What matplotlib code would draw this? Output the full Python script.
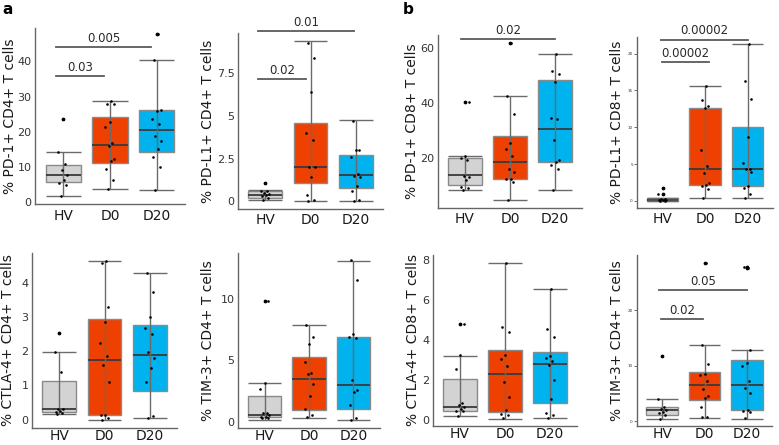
import matplotlib
matplotlib.use("Agg")
import matplotlib.pyplot as plt
import numpy as np

plt.rcParams['font.family'] = ['DejaVu Sans']

groups = ["HV", "D0", "D20"]
colors = ["#d3d3d3", "#ee4000", "#00b2ee"]

# ---- panel 1: PD-1+ CD4+ ----
p1_label = "% PD-1+ CD4+ T cells"
p1_stats = [(1.7, 5.7, 7.8, 10.6, 14.4), (3.9, 11.2, 16.2, 24.2, 28.9), (3.6, 14.4, 20.5, 26.1, 40.4)]
p1_fliers = [[23.7], [], [47.8]]
p1_hv = [1.7, 4.8, 5.5, 6.4, 7.8, 9.3, 11.0, 14.4, 23.7]
p1_d0 = [3.8, 6.4, 9.4, 11.8, 12.2, 16.1, 16.7, 21.3, 22.8, 28.0, 28.0, 28.9]
p1_d20 = [3.6, 10.0, 12.8, 15.1, 17.4, 18.8, 22.2, 23.7, 25.9, 26.3, 40.4, 47.8]
p1_ylim = (-0.5, 49.5)
p1_ticks = [0, 10, 20, 30, 40]
p1_ticklabels = ["0", "10", "20", "30", "40"]
p1_brackets = [(0.84, 1.88, 35.8, "0.03"), (0.84, 2.88, 44.2, "0.005")]

# ---- panel 2: PD-L1+ CD4+ ----
p2_label = "% PD-L1+ CD4+ T cells"
p2_stats = [(0.1, 0.22, 0.38, 0.6, 0.65), (0.02, 1.1, 2.0, 4.6, 9.4), (0.02, 0.76, 1.54, 2.7, 4.77)]
p2_fliers = [[1.1], [], []]
p2_hv = [0.1, 0.2, 0.3, 0.35, 0.4, 0.5, 0.6, 0.62, 1.1]
p2_d0 = [0.02, 0.1, 0.35, 1.4, 2.0, 2.0, 3.6, 4.0, 6.4, 8.4, 9.3]
p2_d20 = [0.02, 0.05, 0.6, 0.9, 1.4, 1.5, 1.6, 2.6, 3.0, 3.0, 4.7]
p2_ylim = (-0.45, 9.86)
p2_ticks = [0, 2.5, 5, 7.5]
p2_ticklabels = ["0", "2.5", "5", "7.5"]
p2_brackets = [(0.85, 1.91, 7.14, "0.02"), (0.85, 2.97, 9.96, "0.01")]

# ---- panel 3: PD-1+ CD8+ ----
p3_label = "% PD-1+ CD8+ T cells"
p3_stats = [(8.1, 10.1, 13.5, 19.9, 20.8), (4.4, 12.3, 18.5, 28.1, 42.7), (8.1, 18.4, 30.6, 48.6, 58.0)]
p3_fliers = [[40.3], [61.8], []]
p3_hv = [8.1, 8.8, 9.3, 11.9, 13.0, 13.3, 19.1, 19.9, 20.6, 40.3]
p3_d0 = [4.4, 11.0, 12.3, 12.3, 14.6, 16.0, 20.7, 23.3, 25.3, 36.0, 42.7, 61.8]
p3_d20 = [8.1, 15.7, 17.3, 18.5, 19.0, 26.5, 34.3, 34.6, 47.6, 50.7, 51.6, 57.8]
p3_ylim = (1.6, 64.9)
p3_ticks = [20, 40, 60]
p3_ticklabels = ["20", "40", "60"]
p3_brackets = [(0.91, 3.0, 63.3, "0.02")]

# ---- panel 4: PD-L1+ CD8+ ----
p4_label = "% PD-L1+ CD8+ T cells"
p4_stats = [(0.0, 0.05, 0.2, 0.35, 0.45), (0.36, 2.16, 4.3, 12.66, 15.6), (0.36, 2.0, 4.4, 10.0, 21.3)]
p4_fliers = [[0.95, 1.76], [], []]
p4_hv = [0.0, 0.05, 0.1, 0.15, 0.2, 0.3, 0.3, 0.95, 1.76]
p4_d0 = [0.4, 1.6, 2.1, 2.2, 2.5, 3.8, 4.8, 6.9, 12.6, 12.9, 13.7, 15.6]
p4_d20 = [0.4, 1.0, 1.8, 2.0, 3.9, 4.3, 4.4, 5.1, 8.7, 13.9, 16.3, 21.3]
p4_ylim = (-0.95, 22.25)
p4_ticks = [0, 5, 10, 15, 20]
p4_ticklabels = ["0", "5", "10", "15", "20"]
p4_brackets = [(0.98, 2.1, 18.8, "0.00002"), (0.96, 3.0, 21.9, "0.00002")]

# ---- panel 5: CTLA-4+ CD4+ ----
p5_label = "% CTLA-4+ CD4+ T cells"
p5_stats = [(0.18, 0.24, 0.3, 1.12, 1.98), (0.0, 0.14, 1.74, 2.94, 4.62), (0.05, 0.84, 1.89, 2.75, 4.29)]
p5_fliers = [[2.53], [], []]
p5_hv = [0.18, 0.2, 0.22, 0.27, 0.3, 0.3, 1.4, 1.98, 2.53]
p5_d0 = [0.0, 0.05, 0.14, 0.14, 1.1, 1.6, 1.87, 2.25, 2.85, 3.28, 4.57, 4.62]
p5_d20 = [0.05, 0.1, 1.1, 1.5, 1.8, 1.97, 2.5, 2.68, 3.0, 3.73, 4.29]
p5_ylim = (-0.24, 4.86)
p5_ticks = [0, 1, 2, 3, 4]
p5_ticklabels = ["0", "1", "2", "3", "4"]
p5_brackets = []

# ---- panel 6: TIM-3+ CD4+ ----
p6_label = "% TIM-3+ CD4+ T cells"
p6_stats = [(0.2, 0.4, 0.6, 2.14, 3.18), (0.37, 0.96, 3.5, 5.24, 7.9), (0.19, 1.1, 3.0, 6.93, 13.05)]
p6_fliers = [[9.8], [], []]
p6_hv = [0.3, 0.35, 0.4, 0.45, 0.6, 0.7, 0.7, 2.7, 3.2, 9.8]
p6_d0 = [0.4, 0.55, 1.1, 2.1, 3.1, 3.9, 4.0, 4.9, 6.3, 6.9, 7.9]
p6_d20 = [0.2, 0.3, 1.35, 2.4, 2.6, 3.4, 6.8, 6.9, 7.1, 11.5, 13.1]
p6_ylim = (-0.48, 13.7)
p6_ticks = [0, 5, 10]
p6_ticklabels = ["0", "5", "10"]
p6_brackets = []

# ---- panel 7: CTLA-4+ CD8+ ----
p7_label = "% CTLA-4+ CD8+ T cells"
p7_stats = [(0.18, 0.43, 0.65, 2.07, 3.22), (0.07, 0.42, 2.29, 3.49, 7.87), (0.12, 0.86, 2.82, 3.4, 6.54)]
p7_fliers = [[4.8], [], []]
p7_hv = [0.2, 0.45, 0.47, 0.55, 0.65, 0.75, 0.85, 2.55, 3.25, 4.8]
p7_d0 = [0.1, 0.25, 0.3, 0.5, 1.15, 1.9, 2.7, 3.05, 3.25, 4.4, 4.65, 7.87]
p7_d20 = [0.12, 0.25, 0.35, 1.05, 2.0, 2.75, 2.95, 3.1, 3.2, 4.15, 4.55, 6.54]
p7_ylim = (-0.3, 8.25)
p7_ticks = [0, 2, 4, 6, 8]
p7_ticklabels = ["0", "2", "4", "6", "8"]
p7_brackets = []

# ---- panel 8: TIM-3+ CD4+ (b) ----
p8_label = "% TIM-3+ CD4+ T cells"
p8_stats = [(0.36, 1.14, 1.98, 2.64, 4.07), (0.66, 3.77, 6.59, 8.98, 13.77), (0.48, 1.98, 6.59, 11.08, 12.87)]
p8_fliers = [[11.7], [28.6], [27.8, 27.7]]
p8_hv = [0.5, 1.2, 1.5, 1.6, 2.0, 2.3, 2.5, 4.0, 11.7]
p8_d0 = [0.7, 0.8, 2.5, 4.2, 4.5, 5.8, 7.2, 8.3, 8.6, 10.4, 13.8, 28.6]
p8_d20 = [0.6, 1.6, 1.8, 2.0, 5.2, 6.0, 7.2, 10.0, 10.5, 12.8, 27.8, 27.7]
p8_ylim = (-0.84, 30.0)
p8_ticks = [0, 10, 20]
p8_ticklabels = ["0", "10", "20"]
p8_brackets = [(0.96, 1.97, 18.5, "0.02"), (0.92, 3.0, 23.7, "0.05")]

panels = [
    (p1_label, p1_stats, p1_fliers, [p1_hv, p1_d0, p1_d20], p1_ylim, p1_ticks, p1_ticklabels, p1_brackets),
    (p2_label, p2_stats, p2_fliers, [p2_hv, p2_d0, p2_d20], p2_ylim, p2_ticks, p2_ticklabels, p2_brackets),
    (p3_label, p3_stats, p3_fliers, [p3_hv, p3_d0, p3_d20], p3_ylim, p3_ticks, p3_ticklabels, p3_brackets),
    (p4_label, p4_stats, p4_fliers, [p4_hv, p4_d0, p4_d20], p4_ylim, p4_ticks, p4_ticklabels, p4_brackets),
    (p5_label, p5_stats, p5_fliers, [p5_hv, p5_d0, p5_d20], p5_ylim, p5_ticks, p5_ticklabels, p5_brackets),
    (p6_label, p6_stats, p6_fliers, [p6_hv, p6_d0, p6_d20], p6_ylim, p6_ticks, p6_ticklabels, p6_brackets),
    (p7_label, p7_stats, p7_fliers, [p7_hv, p7_d0, p7_d20], p7_ylim, p7_ticks, p7_ticklabels, p7_brackets),
    (p8_label, p8_stats, p8_fliers, [p8_hv, p8_d0, p8_d20], p8_ylim, p8_ticks, p8_ticklabels, p8_brackets),
]

# layout in pixels: left, right, top, bottom, ylabel x, xtick pad
W, H = 779, 445
boxes_px = [
    (35, 185, 28, 204, 10, 3.5),
    (238, 383, 33, 209, 208, 3.0),
    (438, 582, 35, 208, 412, 3.0),
    (637, 773, 37, 208, 617, 3.0),
    (32, 177, 253, 428, 8, 1.0),
    (238, 380, 253, 428, 208, 1.0),
    (433, 577, 255, 426, 413, 1.0),
    (637, 772, 255, 426, 617, 1.0),
]
tiny_ticks = [False, False, False, True, False, False, False, True]

JIT = [-0.05, 0.07, -0.08, 0.02, 0.09, -0.03, 0.05, -0.1, 0.0, 0.08, -0.06, 0.03]

fig = plt.figure(figsize=(W / 100, H / 100), dpi=100)

line_gray = "#6b6b6b"
box_edge = "#8a8a8a"
bw = 0.75

for i, (label, stats, fliers, pts, ylim, ticks, tlabels, brackets) in enumerate(panels):
    l, r, t, b, lx, xpad = boxes_px[i]
    ax = fig.add_axes([l / W, 1 - b / H, (r - l) / W, (b - t) / H])
    pos = np.arange(1, 4)
    bxp_stats = []
    for k, (wlo, q1, med, q3, whi) in enumerate(stats):
        bxp_stats.append(dict(med=med, q1=q1, q3=q3, whislo=wlo, whishi=whi, fliers=fliers[k]))
    bp = ax.bxp(bxp_stats, positions=pos, widths=bw, patch_artist=True,
                showcaps=False, showfliers=True,
                boxprops=dict(linewidth=1.0, edgecolor=box_edge),
                medianprops=dict(color="#3a3a3a", linewidth=1.3),
                whiskerprops=dict(linewidth=0),
                flierprops=dict(marker="o", markersize=1.7, markerfacecolor="black",
                                markeredgecolor="black", linestyle="none"))
    for patch, c in zip(bp["boxes"], colors):
        patch.set_facecolor(c)
        patch.set_zorder(2)
    for m in bp["medians"]:
        m.set_zorder(3)
    wlo = [s[0] for s in stats]
    whi = [s[4] for s in stats]
    ax.vlines(pos, wlo, whi, color=line_gray, linewidth=1.0, zorder=3)
    ax.hlines(wlo, pos - bw / 2, pos + bw / 2, color=line_gray, linewidth=1.0, zorder=3)
    ax.hlines(whi, pos - bw / 2, pos + bw / 2, color=line_gray, linewidth=1.0, zorder=3)
    for k, vals in enumerate(pts):
        xs = [pos[k] + JIT[j % len(JIT)] for j in range(len(vals))]
        ax.scatter(xs, vals, s=3.5, color="black", zorder=4, linewidths=0)
    for (x1, x2, y, txt) in brackets:
        ax.plot([x1, x2], [y, y], color="#5a5a5a", linewidth=1.3, clip_on=False, zorder=5)
        ax.annotate(txt, xy=((x1 + x2) / 2, y), xytext=(0, 1.5), textcoords="offset points",
                    ha="center", va="bottom", fontsize=8.5, color="#2a2a2a", annotation_clip=False)
    ax.set_xlim(0.4, 3.6)
    ax.set_ylim(*ylim)
    ax.set_xticks(pos)
    ax.set_xticklabels(groups, fontsize=10, color="#1a1a1a")
    ax.set_yticks(ticks)
    if tiny_ticks[i]:
        ax.set_yticklabels(tlabels, fontsize=3, color="#333333")
        ax.tick_params(axis="y", length=2, width=0.6, pad=1, colors="#555555", labelcolor="#333333")
    else:
        ax.set_yticklabels(tlabels, fontsize=8, color="#333333")
        ax.tick_params(axis="y", length=0, pad=2.5)
    ax.tick_params(axis="x", length=0, pad=xpad)
    for sp in ["top", "right"]:
        ax.spines[sp].set_visible(False)
    for sp in ["left", "bottom"]:
        ax.spines[sp].set_color("#666666")
        ax.spines[sp].set_linewidth(1.0)
    ax.set_facecolor("white")
    cy = (t + b) / 2
    fig.text(lx / W, 1 - cy / H, label, rotation=90, ha="center", va="center",
             fontsize=10, color="#1a1a1a")

fig.text(8 / W, 1 - 10 / H, "a", fontsize=11, fontweight="bold", ha="center", va="center")
fig.text(408 / W, 1 - 10 / H, "b", fontsize=11, fontweight="bold", ha="center", va="center")

fig.savefig("out.png", dpi=100, facecolor="white")
